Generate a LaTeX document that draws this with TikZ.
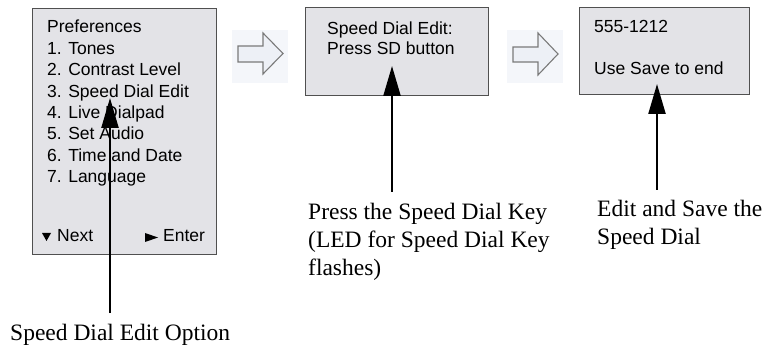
\documentclass[tikz,border=0pt]{standalone}
\usepackage{fontspec}
\setmainfont{Liberation Serif}
\setsansfont{Liberation Sans}
\usetikzlibrary{arrows.meta}
\definecolor{scrfill}{HTML}{E3E3E7}
\definecolor{scrline}{HTML}{505050}
\definecolor{harrfill}{HTML}{EDF0F6}
\definecolor{harrline}{HTML}{7A7A7A}
\definecolor{harrbg}{HTML}{F4F6FA}
\newcommand{\scrfont}{\sffamily\fontsize{17.5}{21.4}\selectfont}
\newcommand{\lblfont}{\rmfamily\fontsize{23.5}{27.5}\selectfont}
\tikzset{
  screen/.style={draw=scrline, fill=scrfill, line width=1.2pt, rectangle, inner sep=0pt, anchor=north west},
  scrtext/.style={anchor=base west, inner sep=0pt, font=\scrfont},
  lbltext/.style={anchor=base west, inner sep=0pt, font=\lblfont},
  pointer/.style={line width=2.3pt, -{Triangle[width=17pt,length=30pt]}},
  hollow/.style={draw=harrline, fill=harrfill, line width=1.1pt, line join=miter},
}
\begin{document}
\begin{tikzpicture}[x=1pt,y=-1pt]
\useasboundingbox (0,0) rectangle (765,347);
% screens
\node[screen, minimum width=184pt, minimum height=246pt] (s1) at (32,8) {};
\node[screen, minimum width=183pt, minimum height=88pt] (s2) at (305,7) {};
\node[screen, minimum width=170pt, minimum height=87pt] (s3) at (579,7) {};
% screen 1 text
\node[scrtext] (p0) at (47,33) {Preferences};
\node[scrtext] (p1) at (47,55) {1. Tones};
\node[scrtext] (p2) at (47,76) {2. Contrast Level};
\node[scrtext] (p3) at (47,97.5) {3. Speed Dial Edit};
\node[scrtext] (p4) at (47,119) {4. Live Dialpad};
\node[scrtext] (p5) at (47,140) {5. Set Audio};
\node[scrtext] (p6) at (47,161.5) {6. Time and Date};
\node[scrtext] (p7) at (47,183) {7. Language};
\fill[black] (42,233) -- (51,233) -- (46.5,241) -- cycle;
\node[scrtext] (nx) at (57,242) {Next};
\fill[black] (145,233) -- (158,237.5) -- (145,242) -- cycle;
\node[scrtext] (en) at (163,242) {Enter};
% screen 2 text
\node[scrtext] (m1) at (327,35) {Speed Dial Edit:};
\node[scrtext] (m2) at (327,55) {Press SD button};
% screen 3 text
\node[scrtext] (r1) at (594,33) {555-1212};
\node[scrtext] (r2) at (594,75) {Use Save to end};
% hollow arrows
\fill[harrbg] (232,30) rectangle (288,83);
\draw[hollow] (238,46) -- (263,46) -- (263,33) -- (283,53.5) -- (263,74) -- (263,62) -- (238,62) -- cycle;
\fill[harrbg] (507,30) rectangle (563,83);
\draw[hollow] (513,47) -- (538,47) -- (538,33) -- (558,54) -- (538,75) -- (538,62) -- (513,62) -- cycle;
% pointers
\coordinate (a1s) at (110,313);
\coordinate (a1e) at (110,98);
\coordinate (a2s) at (392,192);
\coordinate (a2e) at (392,66);
\coordinate (a3s) at (657,190);
\coordinate (a3e) at (657,84);
\draw[pointer] (a1s) -- (a1e);
\draw[pointer] (a2s) -- (a2e);
\draw[pointer] (a3s) -- (a3e);
% labels
\node[lbltext] (l1) at (10,340) {Speed Dial Edit Option};
\node[lbltext] (l2a) at (308,220) {Press the Speed Dial Key};
\node[lbltext] (l2b) at (308,247.5) {(LED for Speed Dial Key};
\node[lbltext] (l2c) at (308,275) {flashes)};
\node[lbltext] (l3a) at (597,217) {Edit and Save the};
\node[lbltext] (l3b) at (597,245) {Speed Dial};
\end{tikzpicture}
\end{document}
